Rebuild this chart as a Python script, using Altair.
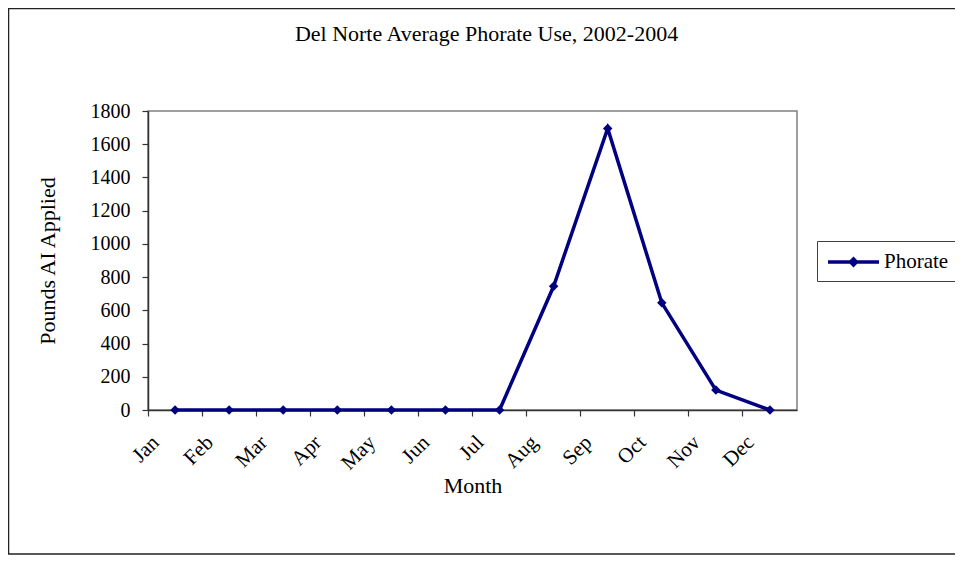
import altair as alt
import pandas as pd

months = ["Jan", "Feb", "Mar", "Apr", "May", "Jun", "Jul", "Aug", "Sep", "Oct", "Nov", "Dec"]
phorate = [0, 0, 0, 0, 0, 0, 0, 745, 1695, 645, 120, 0]
series = "Phorate"
y_ticks = [0, 200, 400, 600, 800, 1000, 1200, 1400, 1600, 1800]

df = pd.DataFrame({"Month": months, "Pounds": phorate, "Series": [series] * len(months)})

FONT = "Liberation Serif"
NAVY = "#000080"

line = alt.Chart(df).mark_line(
    color=NAVY, strokeWidth=3.5,
    point=alt.OverlayMarkDef(shape="diamond", size=90, filled=True, color=NAVY),
).encode(
    x=alt.X("Month:N", sort=months,
            scale=alt.Scale(type="band", paddingInner=0, paddingOuter=0),
            axis=alt.Axis(title="Month", labelAngle=315, labelAlign="right", labelBaseline="middle",
                          bandPosition=0, labelOffset=-19, tickSize=6, labelPadding=23,
                          labelFontSize=21, titlePadding=2)),
    y=alt.Y("Pounds:Q", scale=alt.Scale(domain=[0, 1800], nice=False),
            axis=alt.Axis(title="Pounds AI Applied", values=y_ticks, format="d", tickSize=6,
                          labelPadding=12, titlePadding=31, grid=False)),
    color=alt.Color("Series:N", scale=alt.Scale(range=[NAVY]),
                    legend=alt.Legend(title=None, orient="none", legendX=669, legendY=130,
                                      symbolType="M-1,0L4.1,0M1.55,-0.3L1.85,0L1.55,0.3L1.25,0Z",
                                      symbolSize=400, symbolStrokeWidth=3.5,
                                      symbolStrokeColor=NAVY, symbolFillColor=NAVY,
                                      labelOffset=34, padding=9, strokeColor="#404040",
                                      fillColor="white", labelFontSize=21, labelFont=FONT,
                                      labelColor="black")),
)

frame = alt.Chart(alt.Data(values=[{}])).mark_rect(
    fill="transparent", stroke="#222222", strokeWidth=1.5
).encode(
    x=alt.value(-139.5), x2=alt.value(830), y=alt.value(-102.5), y2=alt.value(443)
)

chart = alt.layer(frame, line).properties(
    width=649, height=299,
    title=alt.Title("Del Norte Average Phorate Use, 2002-2004", font=FONT, fontSize=22,
                    fontWeight="normal", color="black", anchor="middle", baseline="alphabetic",
                    offset=-55, dx=14),
    autosize=alt.AutoSizeParams(type="none"),
    padding={"left": 140, "top": 103, "right": 158, "bottom": 145},
).configure_view(
    stroke="#808080", strokeWidth=1.5
).configure_axis(
    labelFont=FONT, labelFontSize=20, labelColor="black",
    titleFont=FONT, titleFontSize=22, titleFontWeight="normal", titleColor="black",
    domainColor="#333333", tickColor="#333333", domainWidth=1.5, tickWidth=1.2,
)

chart.save("out.html", embed_options={"renderer": "svg", "actions": False})
